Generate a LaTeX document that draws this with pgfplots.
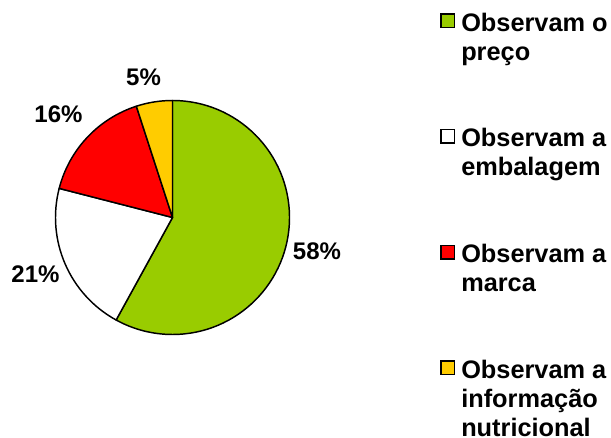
\documentclass[border=0pt]{standalone}
\usepackage{pgfplots}
\pgfplotsset{compat=1.18}
\usepackage{fontspec}
\setmainfont{Liberation Sans}

\definecolor{pricegreen}{HTML}{99CC00}
\definecolor{brandred}{HTML}{FF0000}
\definecolor{infoyellow}{HTML}{FFCC00}

% pie centre (axis units) and radius
\newcommand\pcx{172.5}
\newcommand\pcy{220.5}
\newcommand\prad{87.75pt}
% #1 cumulative share before the slice (%), #2 share of the slice (%), #3 fill
\newcommand\pieslice[3]{%
  \filldraw[fill=#3, draw=black, line width=1.1pt, line join=round]
    (axis cs:\pcx,\pcy) -- ++({90-3.6*(#1)}:\prad)
    arc[start angle={90-3.6*(#1)}, end angle={90-3.6*(#1+#2)}, radius=\prad]
    -- cycle;}
% a legend line that continues the entry above, or a spacer line
\newcommand\legendline[1]{\addlegendimage{empty legend}\addlegendentry{#1}}

\begin{document}
\begin{tikzpicture}
\begin{axis}[
  name=ax,
  x=0.75pt, y=0.75pt,
  xmin=0, xmax=611, ymin=0, ymax=438,
  hide axis, clip=false,
  legend cell align=left,
  % square sitting on the first text line (row line = text centre)
  legend image code/.code={\draw[#1, line width=1.1pt] (0.55pt,-1.95pt) rectangle (10.7pt,8.2pt);},
  legend style={
    at={(axis cs:440,425.7)}, anchor=north west,
    draw=none, fill=none, inner sep=0pt,
    row sep=3.2pt, column sep=4.5pt,
    font=\fontsize{19}{21.75}\selectfont\bfseries,
    nodes={inner sep=0pt, text height=14pt, text depth=4.5pt},
  },
]
% slices, clockwise from twelve o'clock
\pieslice{0}{58}{pricegreen}
\pieslice{58}{21}{white}
\pieslice{79}{16}{brandred}
\pieslice{95}{5}{infoyellow}

\begin{scope}[font=\fontsize{18}{20}\selectfont\bfseries]
\node[inner sep=0pt] at (axis cs:317,186.5) {58\%};
\node[inner sep=0pt] at (axis cs:35.5,163.5) {21\%};
\node[inner sep=0pt] at (axis cs:58.5,324) {16\%};
\node[inner sep=0pt] at (axis cs:143.5,361) {5\%};
\end{scope}

\addlegendimage{fill=pricegreen, draw=black}
\addlegendentry{Observam o}
\legendline{preço}
\legendline{\mbox{}}
\legendline{\mbox{}}
\addlegendimage{fill=white, draw=black}
\addlegendentry{Observam a}
\legendline{embalagem}
\legendline{\mbox{}}
\legendline{\mbox{}}
\addlegendimage{fill=brandred, draw=black}
\addlegendentry{Observam a}
\legendline{marca}
\legendline{\mbox{}}
\legendline{\mbox{}}
\addlegendimage{fill=infoyellow, draw=black}
\addlegendentry{Observam a}
\legendline{informação}
\legendline{nutricional}
\end{axis}
\pgfresetboundingbox
\path (ax.south west) rectangle (ax.north east);
\end{tikzpicture}
\end{document}
